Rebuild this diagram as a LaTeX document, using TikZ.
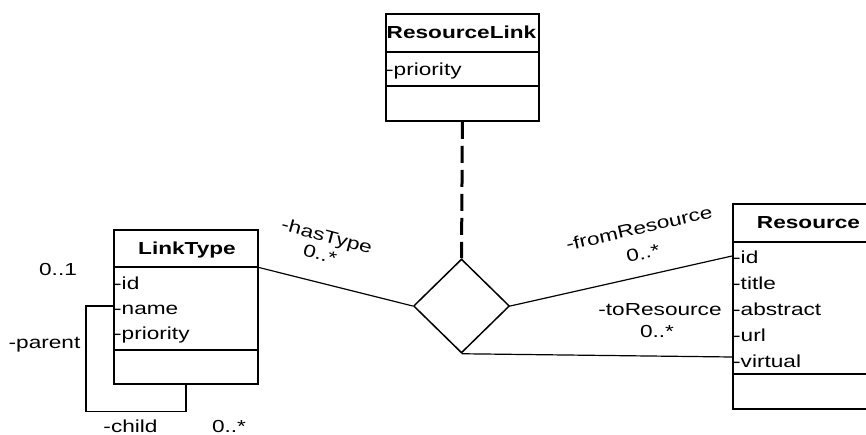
\documentclass[tikz,border=0pt]{standalone}
\usepackage{fontspec}
\setmainfont{Liberation Sans}[FakeStretch=1.3]
\usetikzlibrary{shapes.geometric}
\begin{document}
\begin{tikzpicture}[x=1pt,y=-1pt,
  txt/.style={inner sep=0pt, text height=12.4pt, text depth=0pt,
              font=\fontsize{17.4}{20}\selectfont},
  title/.style={txt, font=\fontsize{17.4}{20}\selectfont\bfseries},
  attr/.style={txt, anchor=west},
  classbox/.style={draw, line width=1.8pt, anchor=north west, inner sep=0pt},
  compart/.style={line width=1.8pt},
  assoc/.style={line width=1.2pt},
  linkclass/.style={line width=3pt, dash pattern=on 17pt off 7pt},
  relation/.style={draw, diamond, line width=1.5pt, inner sep=0pt,
                   minimum width=96pt, minimum height=94pt}]
\useasboundingbox (0,0) rectangle (866,435);
\clip (0,0) rectangle (866,435);

% ---- ResourceLink (association class) ----
\node[classbox, minimum width=153pt, minimum height=107pt] (rl) at (385,13) {};
\draw[compart] (385,52) -- (538,52);
\draw[compart] (385,86) -- (538,86);
\node[title] (rl-name) at (461.5,32.2) {ResourceLink};
\node[attr] (rl-a1) at (386,69.2) {-priority};

% ---- LinkType ----
\node[classbox, minimum width=144pt, minimum height=154pt] (lt) at (113,229) {};
\draw[compart] (113,267) -- (257,267);
\draw[compart] (113,350) -- (257,350);
\node[title] (lt-name) at (187,248.5) {LinkType};
\node[attr] (lt-a1) at (114,283.2) {-id};
\node[attr] (lt-a2) at (114,308.5) {-name};
\node[attr] (lt-a3) at (114,333.5) {-priority};

% ---- Resource ----
\node[classbox, minimum width=153pt, minimum height=205pt] (res) at (732,203) {};
\draw[compart] (732,242) -- (885,242);
\draw[compart] (732,374) -- (885,374);
\node[title] (res-name) at (808.5,221.9) {Resource};
\node[attr] (res-a1) at (733,256.9) {-id};
\node[attr] (res-a2) at (733,282.9) {-title};
\node[attr] (res-a3) at (733,308.9) {-abstract};
\node[attr] (res-a4) at (733,334.9) {-url};
\node[attr] (res-a5) at (733,360.9) {-virtual};

% ---- n-ary association diamond ----
\node[relation] (rel) at (461.5,306) {};

% attachment points on the class borders
\coordinate (lt-out) at (257,267);
\coordinate (lt-self) at (113,306);
\coordinate (loop) at (86,411.5);
\coordinate (res-from) at (732,256);
\coordinate (res-to) at (732,357);

% ---- connectors ----
\draw[linkclass] (rl.south) -- (rel.north);
\draw[assoc] (lt-out) -- (rel.west);
\draw[assoc] (rel.east) -- (res-from);
\draw[assoc] (rel.south) -- (res-to);
\draw[assoc] (lt-self) -| (loop) -| (lt.south);

% ---- role names and multiplicities ----
\node[txt, rotate=-15] (l-hastype) at (327,236) {-hasType};
\node[txt, rotate=-15] (m-hastype) at (320,254) {0..*};
\node[txt, rotate=13] (l-from) at (639,228) {-fromResource};
\node[txt, rotate=13] (m-from) at (643,253) {0..*};
\node[txt] (l-to) at (660,309) {-toResource};
\node[txt] (m-to) at (657,331) {0..*};
\node[txt] (m-parent) at (58,269.2) {0..1};
\node[txt] (l-parent) at (44.5,342.2) {-parent};
\node[txt] (l-child) at (130.5,426) {-child};
\node[txt] (m-child) at (229,426) {0..*};
\end{tikzpicture}
\end{document}
